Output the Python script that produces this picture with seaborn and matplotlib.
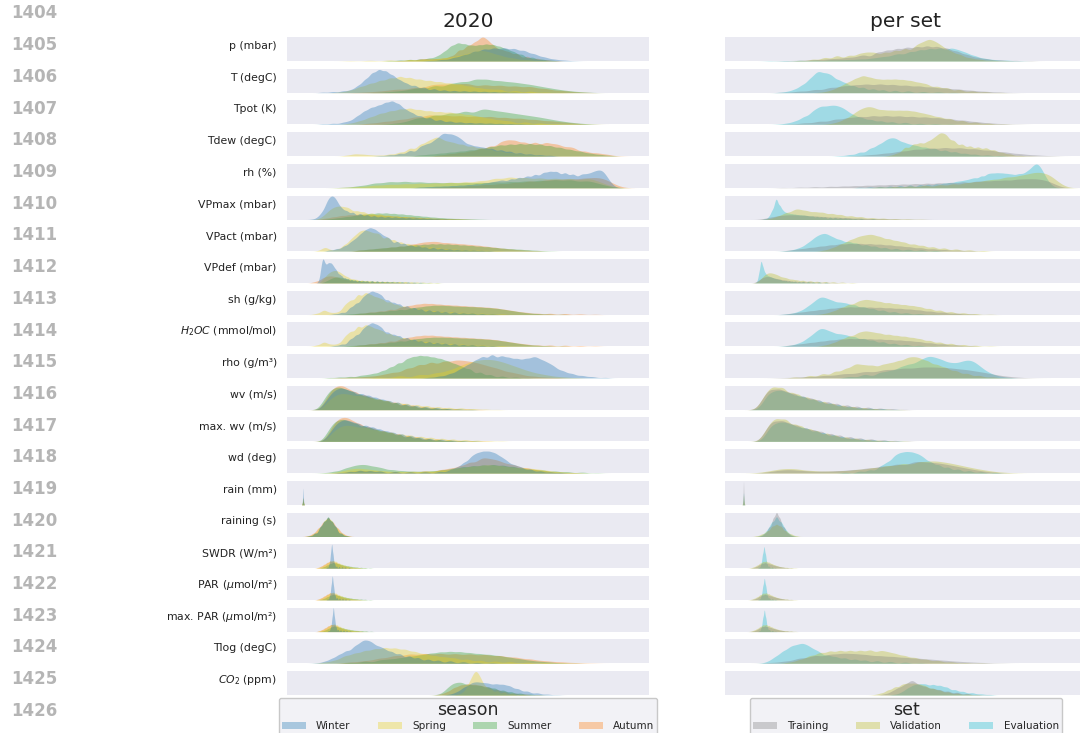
import numpy as np
import pandas as pd
import seaborn as sns
import matplotlib.pyplot as plt
from matplotlib.patches import Patch

# ---------------- data ----------------
variables = ["p (mbar)", "T (degC)", "Tpot (K)", "Tdew (degC)", "rh (%)",
             "VPmax (mbar)", "VPact (mbar)", "VPdef (mbar)", "sh (g/kg)",
             "$H_2OC$ (mmol/mol)", "rho (g/m³)", "wv (m/s)", "max. wv (m/s)",
             "wd (deg)", "rain (mm)", "raining (s)", "SWDR (W/m²)",
             "PAR ($\\mu$mol/m²)", "max. PAR ($\\mu$mol/m²)", "Tlog (degC)",
             "$CO_2$ (ppm)"]
line_numbers = [str(n) for n in range(1404, 1427)]
seasons = ["Winter", "Spring", "Summer", "Autumn"]
sets = ["Training", "Validation", "Evaluation"]
panel_titles = ["2020", "per set"]
legend_titles = ["season", "set"]

# each curve: (value, density height) knots
season_p = dict(
    Winter=[(143,.02),(155,.06),(167,.14),(177,.26),(187,.4),(197,.5),(207,.54),(217,.55),(227,.52),(237,.44),(247,.3),(257,.17),(267,.08),(277,.04),(287,.01)],
    Spring=[(63,.01),(83,.02),(103,.03),(123,.05),(138,.07),(150,.1),(160,.15),(170,.22),(180,.32),(189,.42),(196,.45),(204,.36),(214,.23),(226,.12),(240,.05),(255,.02)],
    Summer=[(103,.02),(113,.04),(123,.06),(133,.08),(142,.12),(150,.2),(157,.4),(164,.65),(171,.78),(178,.72),(185,.66),(192,.68),(199,.72),(206,.7),(213,.62),(220,.5),(227,.38),(235,.25),(245,.14),(255,.07),(265,.03)],
    Autumn=[(113,.02),(123,.04),(133,.08),(140,.1),(148,.1),(156,.12),(164,.2),(172,.45),(180,.62),(187,.8),(193,.95),(197,1.0),(202,.85),(208,.6),(215,.48),(222,.38),(230,.28),(240,.17),(250,.1),(260,.05),(270,.02)])
season_T = dict(
    Winter=[(36,.02),(46,.04),(56,.07),(64,.12),(71,.3),(78,.55),(85,.82),(92,.97),(99,.9),(106,.72),(113,.52),(120,.37),(128,.28),(137,.2),(147,.14),(157,.1),(167,.08),(177,.07),(187,.06),(197,.05),(207,.04),(217,.03),(227,.02),(237,.01)],
    Spring=[(53,.03),(63,.1),(73,.25),(83,.38),(93,.5),(103,.6),(113,.67),(123,.62),(133,.55),(143,.5),(153,.45),(163,.4),(173,.35),(183,.27),(193,.2),(203,.15),(213,.12),(228,.07),(243,.05),(258,.02),(273,.01)],
    Summer=[(93,.02),(103,.05),(113,.08),(123,.14),(133,.2),(148,.28),(163,.35),(175,.45),(188,.56),(200,.56),(212,.5),(223,.45),(233,.4),(243,.35),(253,.27),(263,.2),(273,.13),(283,.08),(293,.04),(303,.02)],
    Autumn=[(73,.02),(83,.04),(93,.07),(103,.11),(113,.15),(128,.22),(143,.3),(153,.35),(163,.37),(173,.36),(183,.35),(198,.32),(213,.3),(228,.27),(243,.25),(258,.17),(273,.1),(285,.05),(298,.02)])
season_Tpot = dict(
    Winter=[(36,.02),(46,.04),(56,.08),(63,.15),(70,.35),(77,.55),(84,.7),(91,.78),(98,.9),(105,.98),(112,.85),(119,.6),(126,.45),(134,.33),(143,.25),(153,.17),(163,.12),(173,.09),(183,.07),(193,.06),(203,.05),(213,.04),(223,.03),(233,.02),(243,.01)],
    Spring=[(63,.05),(73,.15),(83,.3),(93,.45),(103,.55),(113,.63),(123,.67),(133,.6),(143,.55),(153,.52),(163,.5),(173,.45),(183,.4),(193,.32),(203,.25),(213,.18),(223,.12),(238,.08),(253,.05),(268,.02),(283,.01)],
    Summer=[(103,.03),(113,.07),(123,.15),(133,.3),(148,.38),(163,.45),(178,.53),(193,.6),(203,.58),(213,.55),(223,.48),(233,.42),(243,.36),(253,.3),(263,.22),(273,.15),(283,.09),(293,.05),(303,.02)],
    Autumn=[(83,.05),(98,.12),(113,.2),(128,.3),(143,.39),(158,.37),(173,.35),(188,.33),(203,.32),(218,.28),(233,.25),(248,.2),(263,.15),(276,.1),(288,.05),(303,.01)])
season_Tdew = dict(
    Winter=[(93,.02),(103,.05),(113,.1),(123,.2),(133,.35),(140,.5),(147,.65),(153,.82),(158,.95),(164,.93),(170,.82),(176,.62),(183,.47),(190,.4),(197,.35),(205,.3),(214,.24),(223,.18),(233,.12),(243,.08),(253,.05),(263,.03)],
    Spring=[(60,.04),(68,.1),(76,.08),(84,.05),(93,.04),(103,.08),(113,.15),(123,.3),(133,.45),(141,.62),(148,.78),(154,.72),(161,.6),(168,.53),(176,.47),(185,.4),(194,.34),(203,.27),(213,.2),(223,.14),(233,.1),(243,.06),(253,.03)],
    Summer=[(133,.05),(143,.08),(153,.12),(163,.16),(173,.2),(183,.25),(193,.3),(203,.38),(213,.45),(223,.48),(233,.5),(243,.5),(253,.48),(263,.42),(273,.35),(283,.27),(293,.2),(303,.12),(313,.07),(323,.03)],
    Autumn=[(153,.05),(163,.1),(173,.15),(183,.2),(193,.3),(203,.4),(213,.55),(221,.67),(229,.63),(238,.55),(248,.55),(258,.55),(266,.5),(273,.45),(281,.38),(288,.3),(298,.2),(308,.14),(316,.1),(323,.05),(333,.01)])
season_rh = dict(
    Winter=[(133,.03),(141,.045),(149,.06),(157,.07),(165,.085),(173,.1),(181,.12),(189,.15),(197,.18),(204,.22),(210,.25),(216,.29),(224,.33),(232,.38),(240,.43),(248,.49),(256,.56),(263,.62),(270,.6),(278,.55),(286,.5),(294,.5),(300,.53),(305,.58),(309,.66),(313,.74),(316,.65),(319,.5),(322,.3),(325,.12),(328,.03)],
    Spring=[(58,.02),(73,.05),(88,.1),(103,.13),(118,.15),(133,.17),(148,.18),(163,.2),(178,.22),(193,.26),(208,.35),(223,.4),(238,.38),(253,.36),(268,.35),(283,.35),(298,.35),(308,.3),(318,.15),(328,.02)],
    Summer=[(58,.02),(73,.08),(88,.18),(103,.23),(118,.24),(133,.22),(148,.2),(163,.2),(178,.2),(193,.2),(208,.22),(223,.23),(238,.25),(253,.28),(268,.3),(283,.3),(298,.27),(308,.2),(318,.1),(328,.02)],
    Autumn=[(153,.03),(168,.05),(183,.08),(198,.12),(213,.15),(228,.2),(243,.25),(258,.29),(270,.32),(282,.34),(294,.36),(304,.39),(312,.4),(318,.35),(324,.22),(329,.1),(334,.02)])
season_VPmax = dict(
    Winter=[(26,.02),(31,.1),(35,.3),(39,.6),(42,.85),(45,.98),(48,.85),(51,.6),(55,.42),(60,.32),(66,.25),(73,.2),(80,.16),(87,.13),(94,.11),(101,.1),(108,.09),(115,.08),(122,.07),(129,.06),(136,.05),(143,.04),(150,.03),(158,.02),(166,.01)],
    Spring=[(33,.05),(38,.2),(43,.4),(48,.5),(53,.53),(58,.48),(63,.4),(70,.33),(77,.28),(85,.23),(93,.2),(101,.16),(109,.13),(117,.11),(125,.09),(133,.07),(141,.06),(149,.04),(157,.03),(165,.02),(173,.01)],
    Summer=[(43,.03),(51,.07),(59,.11),(67,.15),(75,.2),(83,.23),(91,.25),(99,.25),(107,.23),(115,.21),(123,.18),(131,.15),(139,.12),(147,.09),(155,.07),(163,.05),(171,.04),(179,.03),(187,.02),(195,.01)],
    Autumn=[(38,.05),(46,.1),(54,.15),(62,.18),(70,.2),(78,.2),(86,.19),(94,.17),(102,.15),(110,.13),(118,.11),(126,.1),(134,.08),(142,.06),(150,.05),(158,.04),(166,.03),(174,.02),(182,.01)])
season_VPact = dict(
    Winter=[(43,.05),(50,.1),(57,.2),(63,.35),(68,.5),(73,.7),(78,.87),(83,.98),(88,.9),(93,.75),(98,.6),(103,.47),(110,.37),(117,.3),(124,.24),(131,.2),(138,.16),(146,.13),(154,.1),(162,.08),(170,.06),(178,.05),(186,.04),(194,.03),(202,.02)],
    Spring=[(33,.05),(38,.2),(43,.05),(50,.08),(57,.25),(63,.45),(68,.65),(73,.85),(78,.88),(83,.8),(88,.72),(93,.65),(100,.55),(107,.45),(114,.36),(121,.3),(128,.25),(136,.2),(144,.16),(152,.13),(160,.1),(168,.08),(176,.06),(184,.05),(192,.04),(200,.03),(210,.01)],
    Summer=[(73,.05),(81,.08),(89,.11),(97,.14),(105,.17),(113,.2),(121,.23),(129,.26),(137,.28),(145,.3),(153,.3),(161,.29),(169,.27),(177,.25),(185,.23),(193,.2),(201,.18),(209,.15),(217,.12),(225,.1),(233,.08),(241,.06),(249,.04),(257,.02),(265,.01)],
    Autumn=[(73,.05),(83,.08),(93,.12),(103,.16),(113,.2),(123,.27),(131,.32),(138,.38),(145,.4),(152,.38),(160,.35),(168,.32),(176,.3),(184,.27),(192,.24),(200,.2),(208,.16),(216,.12),(224,.09),(232,.06),(240,.04),(250,.02)])
season_VPdef = dict(
    Winter=[(32,.08),(34,.55),(35.7,1.0),(37.2,.72),(38.7,.62),(40.3,.66),(42,.73),(44,.72),(46,.62),(48,.5),(50,.4),(52.5,.3),(55,.23),(58,.17),(61,.13),(64.5,.1),(68,.08),(72,.07),(76,.06),(80,.055),(85,.05),(90,.045),(95,.04),(100,.035),(105,.03),(110,.025),(115,.02),(121,.015),(127,.01),(133,.01)],
    Spring=[(35,.1),(38,.22),(41,.33),(44,.4),(47,.44),(50,.43),(53,.38),(56,.3),(59,.23),(62,.18),(66,.14),(70,.11),(75,.09),(80,.08),(85,.07),(90,.06),(95,.055),(100,.05),(106,.045),(112,.04),(118,.035),(124,.03),(130,.025),(136,.02),(143,.015),(150,.01)],
    Summer=[(38,.05),(41,.1),(44,.16),(47,.2),(50,.21),(53,.2),(56,.18),(60,.15),(64,.12),(68,.1),(73,.08),(78,.07),(84,.06),(90,.05),(96,.045),(102,.04),(108,.035),(114,.03),(120,.025),(127,.02),(134,.015),(141,.01),(150,.005)],
    Autumn=[(26,.03),(30,.07),(34,.13),(37,.2),(40,.24),(43,.25),(46,.24),(49,.21),(52,.18),(56,.14),(60,.11),(64,.09),(69,.07),(74,.06),(80,.05),(86,.04),(92,.035),(98,.03),(104,.025),(111,.02),(118,.015),(125,.01)])
season_sh = dict(
    Winter=[(48,.03),(55,.08),(63,.25),(69,.45),(75,.65),(80,.85),(85,.98),(90,.88),(95,.75),(101,.58),(107,.48),(113,.4),(120,.33),(127,.26),(134,.2),(142,.16),(150,.13),(158,.1),(167,.08),(176,.06),(185,.05),(195,.03),(205,.02)],
    Spring=[(30,.05),(37,.19),(44,.08),(51,.1),(58,.4),(64,.58),(71,.8),(78,.88),(84,.8),(90,.7),(96,.6),(103,.5),(110,.4),(117,.33),(124,.27),(132,.22),(140,.18),(148,.15),(156,.12),(165,.1),(175,.08),(185,.06),(195,.05),(205,.03),(215,.02)],
    Summer=[(63,.03),(73,.06),(83,.09),(93,.12),(103,.16),(113,.2),(123,.25),(131,.3),(139,.35),(147,.38),(155,.38),(163,.36),(171,.34),(179,.33),(187,.32),(195,.3),(203,.28),(211,.25),(219,.2),(227,.15),(235,.1),(243,.06),(251,.04),(261,.02),(275,.01)],
    Autumn=[(73,.05),(83,.1),(93,.14),(103,.2),(113,.28),(121,.36),(129,.42),(137,.46),(145,.45),(153,.42),(161,.4),(169,.38),(177,.36),(185,.34),(193,.32),(201,.3),(209,.27),(217,.22),(225,.17),(233,.12),(241,.08),(251,.05),(263,.04),(278,.03),(293,.02),(308,.01)])
season_H2OC = dict(
    Winter=[(48,.03),(55,.08),(63,.25),(69,.45),(75,.65),(80,.85),(85,.98),(90,.88),(95,.72),(101,.56),(107,.47),(113,.4),(120,.33),(127,.26),(134,.2),(142,.16),(150,.13),(158,.1),(167,.08),(176,.06),(185,.05),(195,.03),(205,.02)],
    Spring=[(30,.05),(37,.18),(44,.08),(51,.1),(58,.4),(64,.6),(71,.8),(78,.86),(84,.8),(90,.7),(96,.6),(103,.5),(110,.41),(117,.34),(124,.28),(132,.23),(140,.19),(148,.15),(156,.12),(165,.1),(175,.08),(185,.06),(195,.05),(205,.03),(215,.02)],
    Summer=[(63,.03),(73,.06),(83,.09),(93,.12),(103,.16),(113,.21),(123,.26),(131,.31),(139,.35),(147,.37),(155,.37),(163,.36),(171,.34),(179,.33),(187,.32),(195,.3),(203,.28),(211,.25),(219,.2),(227,.15),(235,.1),(243,.06),(251,.04),(261,.02),(275,.01)],
    Autumn=[(73,.05),(83,.1),(93,.14),(103,.2),(113,.28),(121,.36),(129,.42),(137,.45),(145,.45),(153,.42),(161,.4),(169,.38),(177,.36),(185,.34),(193,.32),(201,.3),(209,.27),(217,.22),(225,.17),(233,.12),(241,.08),(251,.05),(263,.04),(278,.03),(293,.02),(308,.01)])
season_rho = dict(
    Winter=[(143,.03),(153,.08),(163,.18),(172,.35),(180,.55),(188,.75),(196,.9),(205,.97),(214,.92),(222,.86),(230,.82),(238,.83),(245,.87),(250,.86),(256,.78),(262,.62),(268,.45),(276,.3),(285,.18),(295,.1),(305,.05),(318,.02)],
    Spring=[(93,.03),(113,.07),(133,.12),(148,.2),(160,.3),(170,.45),(178,.6),(186,.72),(194,.78),(202,.8),(210,.75),(218,.65),(226,.52),(234,.4),(243,.28),(253,.18),(263,.1),(275,.05),(288,.02)],
    Summer=[(43,.02),(53,.04),(63,.06),(73,.1),(80,.14),(87,.2),(95,.3),(103,.45),(111,.62),(119,.78),(126,.9),(133,.96),(140,.93),(147,.88),(154,.82),(161,.72),(168,.6),(175,.48),(183,.35),(193,.22),(203,.12),(215,.06),(228,.03),(240,.01)],
    Autumn=[(53,.02),(63,.035),(73,.05),(83,.08),(93,.12),(100,.17),(108,.25),(120,.4),(132,.55),(144,.65),(156,.7),(166,.72),(174,.75),(182,.72),(190,.65),(198,.55),(206,.45),(214,.35),(224,.25),(234,.15),(246,.08),(258,.04),(270,.02)])
season_wv = dict(
    Winter=[(33,.05),(37,.25),(41,.5),(45,.72),(49,.85),(53,.88),(57,.85),(62,.8),(68,.72),(75,.65),(82,.58),(89,.5),(96,.42),(103,.35),(111,.28),(120,.21),(129,.15),(139,.1),(150,.07),(161,.04),(173,.02),(185,.01)],
    Spring=[(35,.05),(39,.25),(43,.45),(48,.6),(53,.65),(58,.65),(64,.62),(71,.58),(78,.53),(86,.47),(94,.41),(102,.35),(111,.29),(120,.24),(130,.19),(140,.15),(151,.11),(162,.08),(174,.06),(186,.04),(198,.02),(210,.01)],
    Summer=[(31,.05),(35,.3),(39,.58),(43,.8),(47,.9),(51,.92),(55,.88),(60,.82),(66,.73),(73,.63),(80,.55),(87,.47),(94,.4),(101,.33),(109,.26),(118,.19),(127,.13),(137,.09),(147,.06),(158,.04),(170,.02),(182,.01)],
    Autumn=[(30,.02),(35,.15),(39,.45),(43,.75),(47,.92),(51,1.0),(55,.97),(59,.9),(64,.8),(70,.7),(77,.6),(84,.5),(92,.42),(100,.35),(108,.28),(117,.22),(126,.16),(136,.11),(146,.08),(157,.05),(168,.03),(180,.02),(192,.01)])
season_maxwv = dict(
    Winter=[(37,.05),(41,.25),(45,.5),(49,.72),(53,.85),(57,.88),(61,.85),(66,.8),(72,.72),(79,.65),(86,.58),(93,.5),(100,.42),(107,.35),(115,.28),(124,.21),(133,.15),(143,.1),(154,.07),(165,.04),(177,.02),(189,.01)],
    Spring=[(39,.05),(43,.25),(47,.45),(52,.6),(57,.65),(62,.65),(68,.62),(75,.58),(82,.53),(90,.47),(98,.41),(106,.35),(115,.29),(124,.24),(134,.19),(144,.15),(155,.11),(166,.08),(178,.06),(190,.04),(202,.02),(214,.01)],
    Summer=[(35,.05),(39,.3),(43,.58),(47,.8),(51,.88),(55,.9),(59,.86),(64,.8),(70,.72),(77,.63),(84,.55),(91,.47),(98,.4),(105,.33),(113,.26),(122,.19),(131,.13),(141,.09),(151,.06),(162,.04),(174,.02),(186,.01)],
    Autumn=[(34,.02),(39,.15),(43,.45),(47,.75),(51,.92),(55,1.0),(59,.97),(63,.9),(68,.8),(74,.7),(81,.6),(88,.5),(96,.42),(104,.35),(112,.28),(121,.22),(130,.16),(140,.11),(150,.08),(161,.05),(172,.03),(184,.02),(196,.01)])
season_wd = dict(
    Winter=[(53,.02),(63,.06),(73,.1),(83,.09),(93,.06),(108,.04),(123,.03),(138,.03),(153,.05),(163,.12),(170,.25),(177,.45),(184,.68),(190,.85),(196,.92),(202,.92),(208,.85),(214,.68),(220,.5),(227,.35),(234,.24),(243,.15),(253,.08),(263,.04),(273,.02)],
    Spring=[(48,.03),(58,.12),(66,.2),(74,.2),(84,.15),(96,.1),(110,.07),(125,.07),(140,.08),(155,.12),(170,.2),(183,.28),(195,.33),(205,.35),(215,.3),(225,.25),(235,.22),(245,.2),(255,.15),(265,.08),(277,.04),(290,.02)],
    Summer=[(38,.02),(48,.08),(58,.2),(66,.3),(73,.36),(80,.35),(88,.28),(96,.2),(106,.14),(116,.1),(126,.08),(136,.08),(146,.1),(156,.14),(166,.2),(176,.26),(186,.3),(196,.33),(206,.35),(216,.32),(226,.27),(236,.2),(246,.15),(256,.12),(268,.08),(280,.05),(295,.03),(310,.01)],
    Autumn=[(53,.03),(63,.08),(73,.12),(83,.1),(93,.07),(108,.05),(123,.05),(138,.07),(153,.12),(163,.2),(173,.3),(183,.45),(193,.58),(200,.62),(207,.58),(214,.48),(222,.38),(230,.3),(240,.22),(250,.14),(260,.08),(272,.04),(285,.02)])
season_rain = dict(
    Winter=[(15.5,.2),(16,.69),(16.5,.2)],
    Spring=[(15,.04),(15.5,.1),(16,.3),(16.5,.1),(17,.04)],
    Summer=[(15,.03),(15.5,.1),(16,.28),(16.5,.1),(17,.03)],
    Autumn=[(15,.03),(15.5,.1),(16,.28),(16.5,.1),(17,.03)])
season_raining = dict(
    Winter=[(23,.03),(28,.12),(33,.34),(37,.6),(41,.8),(45,.6),(49,.34),(54,.12),(59,.03)],
    Spring=[(22,.03),(27,.12),(32,.33),(37,.6),(41,.78),(45,.6),(50,.33),(55,.12),(60,.03)],
    Summer=[(23,.03),(28,.12),(33,.35),(37,.62),(41,.82),(45,.62),(49,.35),(54,.12),(59,.03)],
    Autumn=[(21,.03),(26,.12),(31,.33),(36,.58),(41,.78),(46,.58),(51,.33),(56,.12),(61,.03)])
season_SWDR = dict(
    Winter=[(40,.03),(42,.12),(43.5,.5),(44.7,1.0),(46,.5),(47.5,.15),(49.5,.06),(52,.04),(55,.03),(58,.02),(62,.01)],
    Spring=[(31,.02),(34,.06),(37,.12),(40,.2),(43,.27),(46,.3),(49,.26),(52,.2),(55,.15),(58,.11),(61,.08),(64,.06),(67,.04),(70,.03),(73,.02),(77,.01)],
    Summer=[(34,.02),(37,.06),(40,.12),(43,.18),(46,.22),(49,.2),(52,.17),(55,.14),(58,.11),(61,.09),(64,.07),(67,.05),(70,.04),(74,.03),(78,.02),(83,.01)],
    Autumn=[(31,.03),(34,.08),(37,.15),(40,.22),(43,.28),(46,.27),(49,.22),(52,.16),(55,.11),(58,.08),(61,.05),(64,.03),(68,.02),(72,.01)])
season_PAR = dict(
    Winter=[(40.5,.03),(42.5,.12),(44,.5),(45.3,1.0),(46.6,.5),(48,.15),(50,.06),(52.5,.04),(55.5,.03),(58.5,.02),(62,.01)],
    Spring=[(31,.02),(34,.06),(37,.12),(40,.2),(43,.27),(46,.3),(49,.26),(52,.2),(55,.15),(58,.11),(61,.08),(64,.06),(67,.04),(70,.03),(73,.02),(77,.01)],
    Summer=[(34,.02),(37,.06),(40,.12),(43,.18),(46,.22),(49,.2),(52,.17),(55,.14),(58,.11),(61,.09),(64,.07),(67,.05),(70,.04),(74,.03),(78,.02),(83,.01)],
    Autumn=[(31,.03),(34,.08),(37,.15),(40,.22),(43,.28),(46,.27),(49,.22),(52,.16),(55,.11),(58,.08),(61,.05),(64,.03),(68,.02),(72,.01)])
season_maxPAR = dict(
    Winter=[(41.5,.03),(43.5,.12),(45,.5),(46.3,1.0),(47.6,.5),(49,.15),(51,.06),(53.5,.04),(56.5,.03),(59.5,.02),(63,.01)],
    Spring=[(32,.02),(35,.06),(38,.12),(41,.2),(44,.27),(47,.3),(50,.26),(53,.2),(56,.15),(59,.11),(62,.08),(65,.06),(68,.04),(71,.03),(74,.02),(78,.01)],
    Summer=[(35,.02),(38,.06),(41,.12),(44,.18),(47,.22),(50,.2),(53,.17),(56,.14),(59,.11),(62,.09),(65,.07),(68,.05),(71,.04),(75,.03),(79,.02),(84,.01)],
    Autumn=[(32,.03),(35,.08),(38,.15),(41,.22),(44,.28),(47,.27),(50,.22),(53,.16),(56,.11),(59,.08),(62,.05),(65,.03),(69,.02),(73,.01)])
season_Tlog = dict(
    Winter=[(30,.02),(38,.08),(45,.2),(52,.35),(59,.5),(66,.62),(71,.72),(76,.97),(81,.9),(86,.8),(92,.68),(98,.55),(105,.45),(113,.35),(122,.27),(131,.2),(141,.14),(151,.1),(163,.07),(176,.04),(190,.02),(205,.01)],
    Spring=[(38,.05),(48,.12),(58,.3),(68,.4),(78,.5),(88,.57),(98,.62),(108,.6),(118,.55),(128,.46),(138,.37),(148,.3),(158,.25),(168,.2),(180,.15),(193,.1),(208,.07),(223,.05),(240,.03),(258,.02),(275,.01)],
    Summer=[(63,.03),(78,.07),(93,.12),(103,.17),(113,.22),(123,.28),(133,.33),(143,.4),(153,.45),(163,.47),(173,.46),(183,.42),(193,.38),(203,.35),(213,.3),(223,.24),(233,.18),(243,.12),(253,.08),(263,.05),(275,.02),(288,.01)],
    Autumn=[(63,.05),(78,.1),(93,.2),(108,.3),(123,.36),(138,.38),(153,.38),(168,.37),(183,.36),(198,.34),(213,.3),(228,.24),(243,.17),(258,.1),(273,.06),(288,.03),(303,.01)])
season_CO2 = dict(
    Winter=[(163,.03),(170,.12),(177,.3),(184,.45),(190,.5),(196,.46),(202,.43),(209,.42),(216,.4),(223,.33),(231,.22),(240,.13),(250,.07),(260,.03),(270,.01)],
    Spring=[(171,.03),(176,.1),(180,.3),(183,.55),(186,.8),(189,.98),(192,.75),(195,.5),(199,.3),(204,.2),(210,.13),(217,.08),(225,.05),(235,.02)],
    Summer=[(150,.02),(156,.1),(161,.3),(166,.45),(171,.48),(176,.45),(182,.4),(188,.37),(194,.35),(201,.3),(208,.24),(216,.17),(224,.11),(233,.06),(243,.03),(253,.01)],
    Autumn=[(153,.03),(160,.12),(167,.28),(174,.38),(181,.42),(188,.4),(195,.35),(202,.28),(210,.2),(218,.12),(228,.06),(238,.03),(250,.01)])

set_p = dict(
    Training=[(55,.01),(65,.02),(75,.03),(85,.045),(95,.06),(103,.08),(110,.1),(118,.12),(125,.15),(133,.18),(140,.22),(152,.32),(162,.42),(172,.48),(182,.53),(192,.55),(202,.58),(212,.56),(222,.5),(232,.38),(242,.25),(252,.14),(262,.08),(275,.04),(290,.02),(305,.01)],
    Validation=[(75,.02),(88,.06),(100,.12),(112,.18),(124,.2),(134,.28),(142,.35),(150,.32),(160,.33),(170,.4),(180,.47),(190,.55),(197,.72),(204,.9),(211,.75),(218,.55),(226,.38),(235,.25),(245,.12),(255,.06),(267,.03),(280,.01)],
    Evaluation=[(45,.01),(60,.015),(75,.02),(90,.03),(105,.04),(115,.05),(125,.06),(135,.08),(145,.1),(153,.14),(160,.18),(168,.23),(175,.28),(185,.36),(195,.43),(205,.48),(215,.5),(225,.5),(233,.44),(241,.33),(250,.2),(260,.1),(270,.05),(282,.03),(295,.01)])
set_T = dict(
    Training=[(60,.02),(75,.06),(90,.12),(105,.2),(118,.27),(130,.32),(142,.35),(155,.35),(168,.33),(181,.3),(194,.27),(207,.23),(220,.19),(233,.15),(246,.1),(259,.06),(272,.03),(285,.01)],
    Validation=[(98,.03),(106,.1),(114,.25),(122,.42),(130,.58),(138,.72),(146,.62),(154,.55),(162,.55),(170,.56),(178,.54),(186,.5),(194,.42),(202,.34),(212,.25),(222,.18),(234,.11),(247,.06),(260,.03),(275,.01)],
    Evaluation=[(55,.02),(63,.06),(70,.15),(77,.32),(84,.55),(90,.78),(95,.88),(101,.82),(107,.7),(114,.52),(121,.38),(129,.27),(138,.2),(148,.14),(158,.1),(170,.07),(183,.05),(198,.03),(213,.02),(228,.01)])
set_Tpot = dict(
    Training=[(65,.02),(80,.06),(95,.12),(110,.2),(123,.27),(135,.32),(148,.35),(161,.35),(174,.34),(187,.32),(200,.3),(213,.27),(226,.22),(239,.17),(252,.11),(265,.06),(278,.03),(292,.01)],
    Validation=[(105,.03),(113,.1),(121,.25),(129,.45),(136,.65),(143,.75),(150,.66),(158,.6),(166,.58),(174,.58),(182,.58),(190,.54),(198,.46),(206,.38),(215,.3),(225,.22),(237,.14),(250,.08),(263,.04),(278,.01)],
    Evaluation=[(55,.02),(63,.06),(71,.15),(79,.32),(87,.52),(93,.68),(98,.75),(104,.78),(110,.8),(116,.72),(122,.55),(129,.38),(137,.27),(146,.19),(156,.13),(167,.09),(180,.06),(195,.03),(210,.02),(225,.01)])
set_Tdew = dict(
    Training=[(130,.02),(145,.06),(160,.12),(175,.2),(190,.28),(205,.33),(220,.35),(235,.34),(250,.3),(265,.24),(280,.17),(295,.1),(310,.05),(325,.02)],
    Validation=[(165,.03),(172,.12),(180,.35),(188,.48),(195,.55),(202,.6),(208,.75),(213,.9),(217,.97),(222,.85),(229,.62),(237,.47),(245,.4),(253,.36),(261,.33),(269,.25),(277,.15),(285,.08),(295,.03),(305,.01)],
    Evaluation=[(115,.02),(125,.06),(135,.15),(145,.3),(153,.47),(160,.65),(166,.78),(172,.72),(179,.58),(186,.48),(193,.42),(201,.36),(210,.3),(220,.23),(230,.17),(240,.11),(250,.07),(262,.04),(275,.02)])
set_rh = dict(
    Training=[(58,.01),(75,.02),(90,.035),(105,.05),(118,.065),(130,.08),(142,.095),(154,.11),(166,.125),(178,.14),(190,.155),(202,.17),(214,.185),(226,.2),(238,.22),(250,.24),(260,.26),(270,.28),(280,.3),(290,.32),(298,.34),(305,.35),(311,.345),(316,.33),(321,.29),(325,.24),(329,.16),(333,.08),(337,.02)],
    Validation=[(155,.03),(170,.045),(185,.06),(200,.08),(215,.1),(228,.14),(240,.18),(250,.23),(260,.28),(269,.33),(278,.38),(285,.42),(292,.45),(297,.48),(302,.52),(306,.56),(310,.6),(314,.61),(318,.6),(322,.55),(325,.5),(328,.4),(331,.3),(334,.2),(337,.12),(340,.06),(343,.02)],
    Evaluation=[(135,.02),(145,.03),(155,.04),(165,.05),(175,.065),(185,.08),(195,.1),(203,.12),(211,.14),(218,.17),(224,.2),(230,.23),(235,.26),(240,.3),(245,.34),(250,.38),(256,.45),(262,.52),(267,.56),(272,.58),(277,.57),(282,.55),(287,.53),(292,.52),(296,.54),(300,.58),(303,.65),(306,.75),(309,.92),(312,.99),(315,.85),(318,.62),(321,.4),(324,.2),(327,.08),(331,.02)])
set_VPmax = dict(
    Training=[(40,.05),(47,.12),(55,.18),(63,.2),(71,.2),(80,.18),(90,.15),(100,.12),(111,.1),(122,.08),(134,.06),(146,.04),(158,.03),(170,.02),(185,.01),(200,.005)],
    Validation=[(45,.04),(53,.15),(61,.3),(69,.42),(75,.43),(82,.38),(90,.33),(98,.3),(107,.25),(116,.2),(126,.15),(136,.11),(147,.07),(158,.05),(170,.03),(182,.02),(195,.01)],
    Evaluation=[(40,.03),(44,.12),(47,.4),(50,.75),(52,.85),(55,.6),(58,.38),(61,.3),(64,.27),(67,.25),(70,.23),(73,.21),(76,.2),(79,.19),(82,.17),(85,.15),(88,.14),(92,.12),(96,.11),(100,.09),(105,.08),(110,.07),(115,.06),(120,.05),(125,.04),(130,.03),(136,.02),(148,.01)])
set_VPact = dict(
    Training=[(65,.05),(75,.1),(85,.15),(95,.2),(105,.25),(115,.29),(125,.31),(135,.31),(145,.3),(155,.28),(165,.25),(175,.21),(185,.17),(196,.13),(208,.09),(220,.06),(233,.04),(246,.02)],
    Validation=[(100,.05),(108,.15),(116,.3),(124,.45),(131,.55),(137,.63),(143,.68),(149,.66),(156,.58),(164,.5),(172,.42),(180,.35),(189,.28),(198,.22),(208,.16),(219,.11),(231,.07),(244,.04),(258,.02)],
    Evaluation=[(60,.02),(68,.06),(75,.15),(82,.32),(88,.5),(93,.65),(98,.74),(103,.68),(109,.55),(116,.45),(124,.38),(132,.31),(141,.25),(150,.19),(160,.13),(171,.09),(183,.06),(196,.04),(210,.02)])
set_VPdef = dict(
    Training=[(32,.05),(35,.15),(38,.22),(41,.25),(44,.24),(47,.21),(51,.17),(55,.14),(60,.11),(65,.08),(71,.06),(78,.05),(85,.04),(93,.03),(101,.02),(110,.01)],
    Validation=[(33,.05),(36,.15),(39,.3),(42,.38),(45,.4),(48,.37),(51,.32),(54,.27),(58,.22),(62,.18),(67,.14),(72,.11),(78,.09),(85,.07),(92,.05),(100,.04),(108,.03),(117,.02),(127,.01)],
    Evaluation=[(32,.05),(34,.4),(36,.9),(38,.6),(40,.38),(42,.3),(44,.26),(46,.23),(48,.2),(50,.17),(52,.15),(54,.13),(56,.11),(58.5,.09),(61,.08),(64,.065),(67,.055),(70,.05),(74,.04),(78,.035),(83,.03),(88,.02),(94,.015),(101,.01)])
set_sh = dict(
    Training=[(65,.05),(75,.1),(85,.15),(95,.2),(105,.25),(115,.29),(125,.31),(135,.31),(145,.3),(155,.29),(165,.27),(175,.25),(185,.22),(195,.18),(206,.13),(218,.09),(231,.05),(245,.02)],
    Validation=[(100,.05),(108,.14),(116,.28),(124,.42),(132,.52),(138,.58),(143,.6),(149,.57),(156,.52),(164,.48),(172,.43),(180,.4),(188,.36),(196,.3),(205,.23),(215,.16),(226,.1),(238,.06),(250,.03),(265,.01)],
    Evaluation=[(60,.02),(68,.06),(75,.15),(82,.32),(88,.5),(93,.65),(97,.73),(102,.66),(108,.56),(115,.5),(122,.45),(130,.38),(139,.3),(148,.23),(158,.16),(169,.1),(181,.06),(194,.03),(208,.01)])
set_H2OC = dict(
    Training=[(65,.05),(75,.1),(85,.15),(95,.2),(105,.25),(115,.29),(125,.31),(135,.31),(145,.3),(155,.29),(165,.27),(175,.25),(185,.22),(195,.18),(206,.13),(218,.09),(231,.05),(245,.02)],
    Validation=[(100,.05),(108,.14),(116,.28),(124,.42),(132,.53),(138,.59),(143,.6),(149,.57),(156,.52),(164,.48),(172,.43),(180,.4),(188,.35),(196,.29),(205,.22),(215,.15),(226,.1),(238,.06),(250,.03),(265,.01)],
    Evaluation=[(60,.02),(68,.06),(75,.15),(82,.32),(88,.5),(93,.66),(97,.74),(102,.66),(108,.56),(115,.5),(122,.44),(130,.37),(139,.3),(148,.23),(158,.16),(169,.1),(181,.06),(194,.03),(208,.01)])
set_rho = dict(
    Training=[(60,.02),(80,.05),(100,.1),(120,.17),(140,.25),(160,.33),(178,.4),(195,.44),(210,.45),(225,.42),(240,.36),(254,.27),(266,.17),(278,.09),(290,.04),(303,.01)],
    Validation=[(70,.03),(85,.08),(98,.15),(110,.25),(120,.38),(128,.5),(133,.58),(140,.55),(148,.52),(157,.55),(165,.62),(173,.72),(181,.82),(188,.88),(195,.82),(203,.7),(212,.55),(221,.42),(231,.28),(242,.17),(254,.09),(267,.04),(280,.01)],
    Evaluation=[(125,.05),(140,.12),(155,.2),(165,.3),(175,.45),(184,.58),(193,.7),(200,.82),(205,.9),(211,.85),(218,.75),(226,.65),(233,.6),(238,.68),(243,.8),(248,.72),(253,.55),(259,.35),(266,.18),(274,.08),(283,.03)])
set_wv = dict(
    Training=[(31,.05),(35,.28),(39,.58),(43,.78),(47,.85),(52,.85),(57,.8),(63,.72),(70,.63),(78,.54),(86,.46),(94,.38),(103,.3),(112,.23),(122,.17),(132,.12),(143,.08),(155,.05),(167,.03),(180,.01)],
    Validation=[(30,.03),(34,.2),(38,.5),(42,.78),(46,.9),(50,.95),(55,.9),(60,.82),(67,.7),(74,.6),(82,.5),(90,.4),(99,.31),(108,.23),(118,.16),(128,.11),(139,.07),(150,.04),(162,.02),(175,.01)],
    Evaluation=[(33,.05),(37,.25),(41,.52),(45,.72),(50,.8),(55,.78),(60,.73),(66,.66),(73,.58),(80,.5),(88,.41),(96,.33),(105,.25),(114,.18),(124,.12),(134,.08),(145,.05),(157,.03),(170,.01)])
set_maxwv = dict(
    Training=[(34,.05),(38,.28),(42,.58),(46,.78),(50,.85),(55,.85),(60,.8),(66,.72),(73,.63),(81,.54),(89,.46),(97,.38),(106,.3),(115,.23),(125,.17),(135,.12),(146,.08),(158,.05),(170,.03),(183,.01)],
    Validation=[(33,.03),(37,.2),(41,.5),(45,.78),(49,.9),(53,.95),(58,.9),(63,.82),(70,.7),(77,.6),(85,.5),(93,.4),(102,.31),(111,.23),(121,.16),(131,.11),(142,.07),(153,.04),(165,.02),(178,.01)],
    Evaluation=[(36,.05),(40,.25),(44,.52),(48,.72),(53,.8),(58,.78),(63,.73),(69,.66),(76,.58),(83,.5),(91,.41),(99,.33),(108,.25),(117,.18),(127,.12),(137,.08),(148,.05),(160,.03),(173,.01)])
set_wd = dict(
    Training=[(40,.03),(50,.1),(60,.15),(70,.13),(82,.09),(97,.08),(112,.1),(127,.14),(142,.2),(157,.28),(172,.36),(187,.43),(197,.46),(207,.45),(217,.4),(227,.32),(237,.24),(247,.16),(257,.09),(268,.04),(280,.01)],
    Validation=[(35,.03),(45,.1),(55,.18),(65,.2),(75,.15),(88,.1),(103,.08),(118,.1),(133,.15),(148,.22),(163,.3),(178,.38),(193,.45),(205,.5),(215,.48),(225,.42),(235,.33),(245,.24),(255,.16),(265,.09),(277,.04),(290,.01)],
    Evaluation=[(120,.02),(135,.06),(145,.12),(155,.25),(162,.45),(169,.7),(175,.85),(181,.9),(187,.88),(193,.8),(199,.62),(206,.45),(214,.32),(223,.22),(233,.14),(244,.08),(256,.04),(270,.02)])
set_rain = dict(
    Training=[(18,.3),(18.5,.96),(19,.3)],
    Validation=[(17.5,.05),(18,.15),(18.5,.4),(19,.15),(19.5,.05)],
    Evaluation=[(18,.15),(18.5,.5),(19,.15)])
set_raining = dict(
    Training=[(36,.03),(40,.12),(44,.35),(48,.7),(51.5,1.0),(55,.7),(59,.35),(63,.12),(67,.03)],
    Validation=[(32,.03),(37,.1),(42,.22),(47,.4),(51.5,.5),(56,.4),(61,.22),(66,.1),(71,.03)],
    Evaluation=[(35,.03),(39,.12),(43,.32),(47,.6),(51.5,.82),(56,.6),(60,.32),(64,.12),(68,.03)])
set_SWDR = dict(
    Training=[(28,.02),(31,.06),(34,.13),(37,.2),(40,.22),(43,.2),(46,.16),(49,.12),(52,.09),(55,.06),(58,.04),(62,.02),(66,.01)],
    Validation=[(26,.02),(29,.06),(32,.12),(35,.2),(38,.27),(41,.28),(44,.24),(47,.18),(50,.13),(53,.09),(56,.06),(59,.04),(62,.03),(66,.02),(70,.01)],
    Evaluation=[(34,.03),(36,.15),(37.5,.55),(39,.9),(40.5,.55),(42,.15),(44,.06),(47,.03),(50,.01)])
set_PAR = dict(
    Training=[(28,.02),(31,.06),(34,.13),(37,.2),(40,.22),(43,.2),(46,.16),(49,.12),(52,.09),(55,.06),(58,.04),(62,.02),(66,.01)],
    Validation=[(26,.02),(29,.06),(32,.12),(35,.2),(38,.27),(41,.28),(44,.24),(47,.18),(50,.13),(53,.09),(56,.06),(59,.04),(62,.03),(66,.02),(70,.01)],
    Evaluation=[(34.3,.03),(36.3,.15),(37.8,.55),(39.3,.9),(40.8,.55),(42.3,.15),(44.3,.06),(47.3,.03),(50.3,.01)])
set_maxPAR = dict(
    Training=[(28,.02),(31,.06),(34,.13),(37,.2),(40,.22),(43,.2),(46,.16),(49,.12),(52,.09),(55,.06),(58,.04),(62,.02),(66,.01)],
    Validation=[(26,.02),(29,.06),(32,.12),(35,.2),(38,.27),(41,.28),(44,.24),(47,.18),(50,.13),(53,.09),(56,.06),(59,.04),(62,.03),(66,.02),(70,.01)],
    Evaluation=[(34.3,.03),(36.3,.15),(37.8,.55),(39.3,.9),(40.8,.55),(42.3,.15),(44.3,.06),(47.3,.03),(50.3,.01)])
set_Tlog = dict(
    Training=[(45,.03),(60,.08),(75,.2),(90,.3),(105,.35),(118,.4),(130,.38),(142,.34),(155,.3),(168,.27),(181,.23),(194,.2),(207,.16),(220,.12),(233,.08),(246,.05),(260,.03),(275,.01)],
    Validation=[(65,.05),(75,.15),(85,.3),(95,.42),(105,.48),(115,.5),(125,.5),(135,.5),(145,.52),(155,.5),(163,.45),(171,.38),(180,.3),(190,.22),(201,.15),(213,.1),(226,.05),(240,.02),(255,.01)],
    Evaluation=[(40,.03),(45,.12),(51,.3),(58,.5),(65,.67),(71,.72),(77,.83),(83,.72),(89,.55),(95,.42),(103,.32),(111,.25),(120,.2),(130,.15),(140,.11),(152,.08),(165,.05),(180,.03),(195,.01)])
set_CO2 = dict(
    Training=[(160,.05),(167,.15),(173,.3),(179,.42),(184,.52),(187,.6),(190,.5),(195,.4),(201,.33),(208,.26),(215,.2),(223,.14),(232,.09),(242,.05),(252,.02),(262,.01)],
    Validation=[(150,.02),(156,.08),(163,.2),(170,.32),(177,.42),(183,.48),(189,.48),(195,.43),(201,.35),(208,.26),(215,.18),(223,.11),(232,.06),(242,.03),(252,.01)],
    Evaluation=[(170,.03),(177,.12),(183,.3),(189,.42),(195,.45),(201,.43),(208,.42),(215,.38),(222,.3),(230,.2),(238,.13),(247,.08),(256,.04),(265,.02)])

season_rows = [season_p, season_T, season_Tpot, season_Tdew, season_rh, season_VPmax,
               season_VPact, season_VPdef, season_sh, season_H2OC, season_rho, season_wv,
               season_maxwv, season_wd, season_rain, season_raining, season_SWDR,
               season_PAR, season_maxPAR, season_Tlog, season_CO2]
set_rows = [set_p, set_T, set_Tpot, set_Tdew, set_rh, set_VPmax, set_VPact, set_VPdef,
            set_sh, set_H2OC, set_rho, set_wv, set_maxwv, set_wd, set_rain, set_raining,
            set_SWDR, set_PAR, set_maxPAR, set_Tlog, set_CO2]

# ---------------- style ----------------
season_palette = {"Winter": "#1f77b4", "Spring": "#e8d21d", "Summer": "#2ca02c", "Autumn": "#ff7f0e"}
set_palette = {"Training": "#7f7f7f", "Validation": "#bcbd22", "Evaluation": "#17becf"}
ALPHA = 0.35
RIPPLE = 0.03   # tolerated smoothing ripple, relative to a curve's peak

sns.set_theme(style="dark")
plt.rcParams["font.family"] = ["DejaVu Sans"]

W, H = 1080, 733
fig = plt.figure(figsize=(W / 100, H / 100), dpi=100)


def bw_fn(kde):
    # smallest kernel width that keeps the knot ripple below RIPPLE of the peak
    x = kde.dataset[0]
    w = kde.weights
    d = np.gradient(x)
    r = (w / d) / (w / d).max()
    need = d * np.sqrt(np.clip(np.log(2 * r / RIPPLE), 0, None) / (2 * np.pi ** 2))
    std = np.sqrt(np.cov(x, aweights=w))
    return need.max() / std


def draw_row(ax, curves, order, palette):
    frames = []
    for g in order:
        xs = np.array([p[0] for p in curves[g]], float)
        hs = np.array([p[1] for p in curves[g]], float)
        frames.append(pd.DataFrame({"x": xs, "w": hs * np.gradient(xs), "group": g}))
    df = pd.concat(frames, ignore_index=True)
    sns.kdeplot(data=df, x="x", weights="w", hue="group", hue_order=order,
                palette=palette, fill=True, alpha=ALPHA, linewidth=0,
                common_norm=True, bw_method=bw_fn, legend=False, ax=ax,
                warn_singular=False)
    top = max(path.vertices[:, 1].max() for c in ax.collections for path in c.get_paths())
    hmax = max(p[1] for g in order for p in curves[g])
    ax.set_ylim(0, top / hmax)
    ax.set_xlim(0, 362)
    ax.set_xticks([])
    ax.set_yticks([])
    ax.set_xlabel("")
    ax.set_ylabel("")
    for s in ax.spines.values():
        s.set_visible(False)
    ax.set_facecolor("#EAEAF2")


columns = [(287, season_rows, seasons, season_palette),
           (725, set_rows, sets, set_palette)]
last_axes = []
for c, (x0, rows, order, pal) in enumerate(columns):
    for i in range(len(variables)):
        top_px = 37 + 31.7 * i
        ax = fig.add_axes([x0 / W, 1 - (top_px + 24) / H, 362 / W, 24 / H])
        draw_row(ax, rows[i], order, pal)
        if c == 0:
            ax.text(-0.028, 0.5, variables[i], transform=ax.transAxes, ha="right",
                    va="baseline", fontsize=7.8, color="#222222")
        if i == 0:
            ax.set_title(panel_titles[c], fontsize=14.5, pad=7, color="#222222")
    last_axes.append(ax)

for ax, order, pal, title in zip(last_axes, [seasons, sets],
                                 [season_palette, set_palette], legend_titles):
    handles = [Patch(facecolor=pal[g], alpha=ALPHA, edgecolor="none") for g in order]
    leg = ax.legend(handles, order, title=title, loc="upper center",
                    bbox_to_anchor=(0.5, -0.12), ncol=len(order), fontsize=7.5,
                    title_fontsize=12.5, handlelength=2.3, handleheight=0.6,
                    handletextpad=1.0, columnspacing=2.6, frameon=True,
                    borderpad=0.3, labelspacing=0.2, borderaxespad=0)
    leg.get_frame().set_facecolor("#F2F2F6")
    leg.get_frame().set_edgecolor("#C8C8C8")
    leg.get_frame().set_alpha(1)

for j, num in enumerate(line_numbers):
    fig.text(11 / W, 1 - (13.5 + 31.7 * j) / H, num, fontsize=12, fontweight="bold",
             color="#B5B5B5", va="center", ha="left")

fig.savefig("out.png", dpi=100)
